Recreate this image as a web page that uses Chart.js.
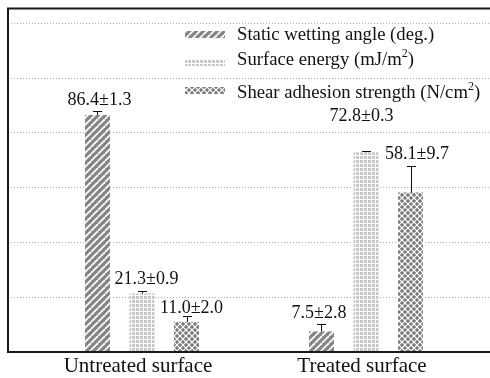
<!DOCTYPE html>
<html>
<head>
<meta charset="utf-8">
<script src="https://cdn.jsdelivr.net/npm/chart.js@4.4.1/dist/chart.umd.min.js"></script>
<style>
  html, body { margin: 0; padding: 0; background: #fff; }
  #wrap { width: 490px; height: 378px; }
</style>
</head>
<body>
<div id="wrap"><canvas id="surfaceChart"></canvas></div>
<script>
// data
const categories = ['Untreated surface', 'Treated surface'];
const seriesNames = ['Static wetting angle (deg.)', 'Surface energy (mJ/m²)', 'Shear adhesion strength (N/cm²)'];
const wettingAngle = [86.4, 7.5];
const wettingErr = [1.3, 2.8];
const surfaceEnergy = [21.3, 72.8];
const energyErr = [0.9, 0.3];
const shearStrength = [11.0, 58.1];
const shearErr = [2.0, 9.7];
const gridValues = [20, 40, 60, 80, 100, 120];

// small nudges for the value labels [dx, dy] so they sit like the original
const labelNudge = [
  [[2, 0], [-2.5, 0]],
  [[4.5, -1], [-4.5, -24]],
  [[5, 3], [6.5, -1]]
];

const serif = "'Liberation Serif', 'DejaVu Serif', serif";

// fill patterns
function makePattern(size, draw) {
  const c = document.createElement('canvas');
  c.width = size; c.height = size;
  const g = c.getContext('2d');
  draw(g, size);
  return g.createPattern(c, 'repeat');
}

const hatchPattern = makePattern(7, (g, s) => {
  g.fillStyle = '#858585';
  g.fillRect(0, 0, s, s);
  g.strokeStyle = '#fff';
  g.lineWidth = 1.8;
  for (let k = -1; k <= 1; k++) {
    g.beginPath();
    g.moveTo(k * s, s);
    g.lineTo(k * s + s, 0);
    g.stroke();
  }
});

const gridPattern = makePattern(4, (g, s) => {
  g.fillStyle = '#fff';
  g.fillRect(0, 0, s, s);
  g.fillStyle = '#c8c8c8';
  g.fillRect(0, 0, 3, 3);
});

const diamondPattern = makePattern(6, (g, s) => {
  g.fillStyle = '#7a7a7a';
  g.fillRect(0, 0, s, s);
  g.strokeStyle = '#fff';
  g.lineWidth = 1.2;
  for (let k = -1; k <= 1; k++) {
    g.beginPath();
    g.moveTo(k * s, s);
    g.lineTo(k * s + s, 0);
    g.stroke();
    g.beginPath();
    g.moveTo(k * s, 0);
    g.lineTo(k * s + s, s);
    g.stroke();
  }
});

const errors = [wettingErr, energyErr, shearErr];
const patterns = [hatchPattern, gridPattern, diamondPattern];

// frame + dotted grid, drawn wider than the chart area like the original
const framePlugin = {
  id: 'frame',
  beforeDatasetsDraw(chart) {
    const ctx = chart.ctx;
    const y = chart.scales.y;
    ctx.save();
    ctx.strokeStyle = '#b0b0b0';
    ctx.lineWidth = 1;
    ctx.setLineDash([1, 2]);
    gridValues.forEach(v => {
      const py = Math.round(y.getPixelForValue(v)) + 0.5;
      ctx.beginPath();
      ctx.moveTo(11, py);
      ctx.lineTo(490, py);
      ctx.stroke();
    });
    ctx.restore();
  },
  afterDatasetsDraw(chart) {
    const ctx = chart.ctx;
    const y = chart.scales.y;
    const base = y.getPixelForValue(0);
    ctx.save();
    ctx.strokeStyle = '#1a1a1a';
    ctx.lineWidth = 2;
    ctx.beginPath();
    ctx.moveTo(490, 8.5);
    ctx.lineTo(8, 8.5);
    ctx.lineTo(8, base);
    ctx.lineTo(490, base);
    ctx.stroke();
    ctx.restore();
  }
};

// error bars (upper half only) and "value±err" labels
const errorPlugin = {
  id: 'errors',
  afterDatasetsDraw(chart) {
    const ctx = chart.ctx;
    const y = chart.scales.y;
    ctx.save();
    ctx.strokeStyle = '#111';
    ctx.fillStyle = '#111';
    ctx.lineWidth = 1;
    ctx.font = '18px ' + serif;
    ctx.textAlign = 'center';
    ctx.textBaseline = 'alphabetic';
    chart.data.datasets.forEach((ds, i) => {
      chart.getDatasetMeta(i).data.forEach((bar, j) => {
        const v = ds.data[j];
        const e = errors[i][j];
        const x = Math.round(bar.x) + 0.5;
        const top = y.getPixelForValue(v);
        const cap = Math.round(y.getPixelForValue(v + e)) + 0.5;
        ctx.beginPath();
        ctx.moveTo(x, top);
        ctx.lineTo(x, cap);
        ctx.moveTo(x - 4.5, cap);
        ctx.lineTo(x + 4.5, cap);
        ctx.stroke();
        const n = labelNudge[i][j];
        ctx.fillText(v.toFixed(1) + '±' + e.toFixed(1), bar.x + n[0], cap - 7 + n[1]);
      });
    });
    ctx.restore();
  }
};

// legend inside the plot, with raised "2"
function drawSup(ctx, text, x, yb) {
  const parts = text.split('²');
  let cx = x;
  parts.forEach((p, k) => {
    ctx.font = '18.7px ' + serif;
    ctx.fillText(p, cx, yb);
    cx += ctx.measureText(p).width;
    if (k < parts.length - 1) {
      ctx.font = '12px ' + serif;
      ctx.fillText('2', cx, yb - 8);
      cx += ctx.measureText('2').width;
    }
  });
}

const legendPlugin = {
  id: 'innerLegend',
  afterDraw(chart) {
    const ctx = chart.ctx;
    const patchTop = [31, 59, 87];
    const baseline = [40, 65, 98];
    ctx.save();
    ctx.fillStyle = '#111';
    ctx.textAlign = 'left';
    ctx.textBaseline = 'alphabetic';
    chart.data.datasets.forEach((ds, i) => {
      ctx.fillStyle = ds.backgroundColor;
      ctx.fillRect(185, patchTop[i], 40, 7);
      ctx.fillStyle = '#111';
      drawSup(ctx, ds.label, 237, baseline[i]);
    });
    ctx.restore();
  }
};

const seriesValues = [wettingAngle, surfaceEnergy, shearStrength];

new Chart(document.getElementById('surfaceChart'), {
  type: 'bar',
  data: {
    labels: categories,
    datasets: seriesValues.map((vals, i) => ({
      label: seriesNames[i],
      data: vals,
      backgroundColor: patterns[i],
      borderWidth: 0,
      categoryPercentage: 0.596,
      barPercentage: 0.56
    }))
  },
  options: {
    responsive: true,
    maintainAspectRatio: false,
    animation: false,
    layout: { padding: { left: 30, right: 12, top: 9, bottom: -3 } },
    plugins: {
      legend: { display: false },
      tooltip: { enabled: false }
    },
    scales: {
      x: {
        grid: { display: false, drawTicks: false },
        border: { display: false },
        ticks: {
          color: '#111',
          padding: 4,
          labelOffset: -4,
          font: { family: serif, size: 21, lineHeight: 1 }
        }
      },
      y: {
        display: false,
        min: 0,
        max: 125
      }
    }
  },
  plugins: [framePlugin, errorPlugin, legendPlugin]
});
</script>
</body>
</html>
